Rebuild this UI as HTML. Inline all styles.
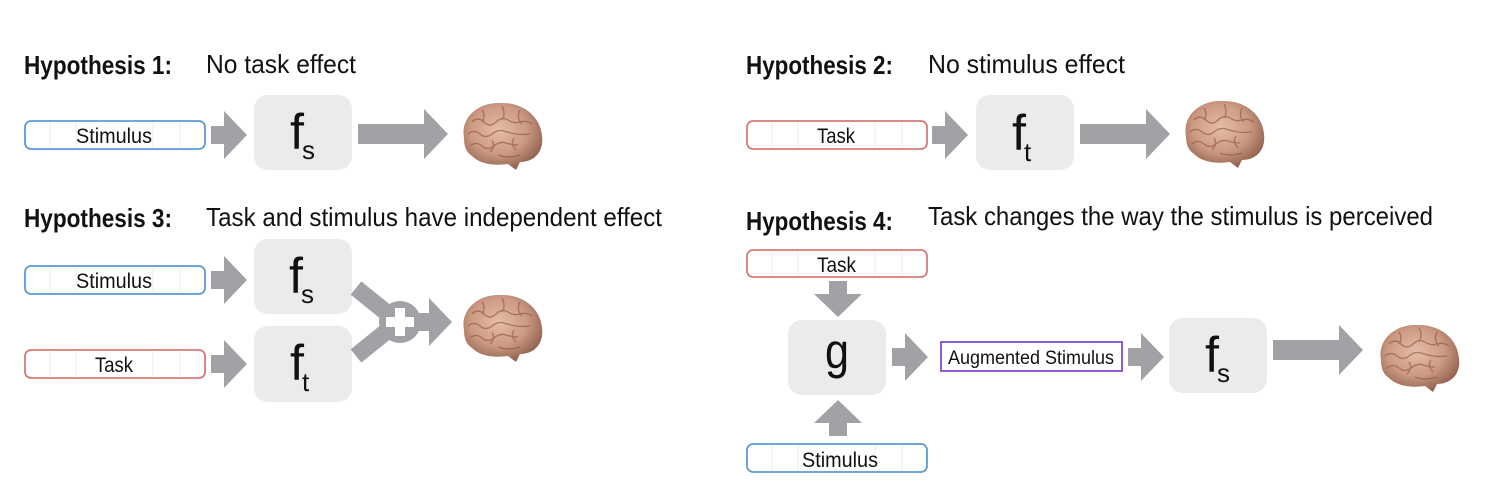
<!DOCTYPE html>
<html><head><meta charset="utf-8"><style>
html,body{margin:0;padding:0;background:#fff;}
svg{display:block;font-family:"Liberation Sans",sans-serif;}
</style></head><body>
<svg width="1502" height="500" viewBox="0 0 1502 500" xmlns="http://www.w3.org/2000/svg">
<defs>
<radialGradient id="br" cx="45%" cy="40%" r="60%">
<stop offset="0" stop-color="#e6bda8"/><stop offset="0.6" stop-color="#cc9a82"/><stop offset="1" stop-color="#946552"/>
</radialGradient>
<g id="brain">
<path d="M6,38 C2,18 20,2 42,3 C62,2 82,14 84,36 C86,52 76,62 62,62 L58,70 L50,64 C36,66 22,64 14,56 C8,52 6,46 6,38Z" fill="url(#br)"/>
<g fill="none" stroke="#8a5040" stroke-width="1.3" opacity="0.6">
<path d="M14,22 q6,-6 12,0 t12,0 t12,-2 t12,2 t12,2"/>
<path d="M10,34 q6,-5 12,0 t12,0 t12,-3 t12,3 t14,0"/>
<path d="M12,46 q6,-5 12,0 t12,0 t12,-3 t12,2"/>
<path d="M24,10 q4,6 0,12 M44,6 q4,8 0,14 M62,10 q-4,8 2,14 M34,40 q4,6 -2,12 M56,38 q-4,6 2,12"/>
<path d="M40,55 q10,4 22,0"/>
</g>
</g>
<g id="ra"><path d="M0,-9 H13 V-24 L36,0 L13,24 V9 H0Z" fill="#a0a2a5"/></g>
<g id="la"><path d="M0,-10 H66 V-25 L90,0 L66,25 V10 H0Z" fill="#a0a2a5"/></g>
</defs>

<g font-size="26" fill="#111">
<text x="24" y="74" font-weight="bold" textLength="148" lengthAdjust="spacingAndGlyphs">Hypothesis 1:</text>
<text x="206" y="73" textLength="150" lengthAdjust="spacingAndGlyphs">No task effect</text>
<text x="746" y="74" font-weight="bold" textLength="147" lengthAdjust="spacingAndGlyphs">Hypothesis 2:</text>
<text x="928" y="73" textLength="197" lengthAdjust="spacingAndGlyphs">No stimulus effect</text>
<text x="24" y="227" font-weight="bold" textLength="148" lengthAdjust="spacingAndGlyphs">Hypothesis 3:</text>
<text x="206" y="226" textLength="456" lengthAdjust="spacingAndGlyphs">Task and stimulus have independent effect</text>
<text x="746" y="230" font-weight="bold" textLength="147" lengthAdjust="spacingAndGlyphs">Hypothesis 4:</text>
<text x="928" y="225" textLength="505" lengthAdjust="spacingAndGlyphs">Task changes the way the stimulus is perceived</text>
</g>

<g fill="#fff" stroke-width="1.8">
<rect x="25" y="121" width="180" height="28" rx="6" stroke="#5b9bd5"/>
<rect x="25" y="266" width="180" height="28" rx="6" stroke="#5b9bd5"/>
<rect x="25" y="350" width="180" height="28" rx="6" stroke="#d47b78"/>
<rect x="747" y="121" width="180" height="28" rx="6" stroke="#d47b78"/>
<rect x="747" y="250" width="180" height="27" rx="6" stroke="#d47b78"/>
<rect x="747" y="444" width="180" height="28" rx="6" stroke="#5b9bd5"/>
</g>
<rect x="941" y="342" width="181" height="29" fill="#fff" stroke="#8a5cd1" stroke-width="2"/>
<g stroke="#ececec" stroke-width="1">
<path d="M50,122V148M76,122V148M153,122V148M180,122V148"/>
<path d="M50,267V293M76,267V293M153,267V293M180,267V293"/>
<path d="M50,351V377M76,351V377M153,351V377M180,351V377"/>
<path d="M772,122V148M798,122V148M875,122V148M902,122V148"/>
<path d="M772,251V276M798,251V276M875,251V276M902,251V276"/>
<path d="M772,445V471M798,445V471M875,445V471M902,445V471"/>
</g>
<g font-size="21" fill="#111">
<text x="76" y="143" textLength="76" lengthAdjust="spacingAndGlyphs">Stimulus</text>
<text x="76" y="288" textLength="76" lengthAdjust="spacingAndGlyphs">Stimulus</text>
<text x="95" y="372" textLength="38" lengthAdjust="spacingAndGlyphs">Task</text>
<text x="817" y="143" textLength="38" lengthAdjust="spacingAndGlyphs">Task</text>
<text x="817" y="272" textLength="39" lengthAdjust="spacingAndGlyphs">Task</text>
<text x="802" y="467" textLength="76" lengthAdjust="spacingAndGlyphs">Stimulus</text>
<text x="948" y="364" font-size="19" textLength="166" lengthAdjust="spacingAndGlyphs">Augmented Stimulus</text>
</g>

<g fill="#ebebeb">
<rect x="254" y="95" width="98" height="75" rx="14"/>
<rect x="976" y="95" width="98" height="75" rx="14"/>
<rect x="254" y="239" width="98" height="75" rx="14"/>
<rect x="254" y="326" width="98" height="76" rx="14"/>
<rect x="788" y="320" width="98" height="75" rx="14"/>
<rect x="1169" y="318" width="98" height="75" rx="14"/>
</g>
<g font-size="50" fill="#111">
<text x="290" y="149" textLength="14" lengthAdjust="spacingAndGlyphs">f</text><text x="302" y="159" font-size="26">s</text>
<text x="1012" y="150" textLength="14" lengthAdjust="spacingAndGlyphs">f</text><text x="1024" y="161" font-size="26">t</text>
<text x="289" y="293" textLength="14" lengthAdjust="spacingAndGlyphs">f</text><text x="301" y="303" font-size="26">s</text>
<text x="290" y="380" textLength="14" lengthAdjust="spacingAndGlyphs">f</text><text x="302" y="391" font-size="26">t</text>
<text x="825" y="368" textLength="24" lengthAdjust="spacingAndGlyphs">g</text>
<text x="1205" y="372" textLength="14" lengthAdjust="spacingAndGlyphs">f</text><text x="1217" y="382" font-size="26">s</text>
</g>

<use href="#ra" x="211" y="135"/>
<use href="#la" x="358" y="134"/>
<use href="#ra" x="211" y="280"/>
<use href="#ra" x="211" y="364"/>
<use href="#ra" x="932" y="135"/>
<use href="#la" x="1080" y="134"/>
<use href="#ra" x="892" y="357"/>
<use href="#ra" x="1128" y="357"/>
<use href="#la" x="1273" y="350"/>
<use href="#ra" transform="translate(838,281) rotate(90)"/>
<use href="#ra" transform="translate(838,436) rotate(-90)"/>

<g stroke="#a0a2a5" stroke-width="17" fill="none">
<path d="M356,288 L398,322 L356,356"/>
</g>
<circle cx="400" cy="322" r="21" fill="#a0a2a5"/>
<path d="M395,308h10v9h9v10h-9v9h-10v-9h-9v-10h9z" fill="#fff"/>
<use href="#ra" x="416" y="322"/>

<use href="#brain" x="458" y="100"/>
<use href="#brain" x="458" y="292"/>
<use href="#brain" x="1180" y="98"/>
<use href="#brain" x="1375" y="322"/>
</svg>
</body></html>
